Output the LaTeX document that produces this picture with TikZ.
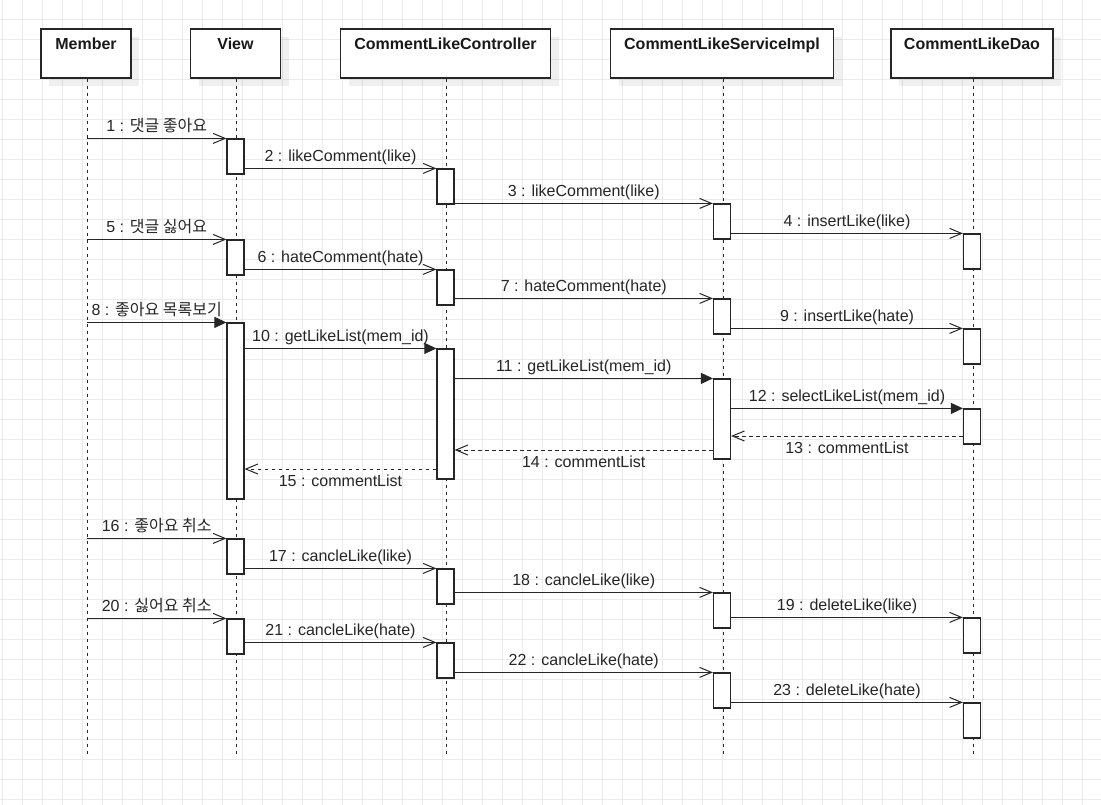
\documentclass[tikz,border=0pt]{standalone}
\usepackage{fontspec}
\setmainfont{Liberation Sans}
\newfontfamily\kr{Noto Sans CJK KR}
\usetikzlibrary{arrows.meta,calc,shadows}
\begin{document}
\begin{tikzpicture}[x=1pt,y=-1pt,
  gridline/.style={draw=black!8, line width=0.8pt},
  hdr/.style={draw=black!85, line width=1.2pt, fill=white, minimum height=49pt, inner sep=0pt,
    drop shadow={shadow xshift=8pt, shadow yshift=-8pt, fill=black, opacity=0.06}},
  ttl/.style={font=\fontsize{16pt}{19pt}\selectfont\bfseries, anchor=base, text=black!90, inner sep=0pt},
  lifeline/.style={draw=black!85, line width=1pt, dash pattern=on 3.5pt off 3.5pt},
  act/.style={draw=black!85, line width=1.2pt, fill=white, minimum width=17pt, inner sep=0pt},
  msg/.style={draw=black!85, line width=1pt, -{Straight Barb[length=12pt,width=10pt,line width=1pt]}},
  fmsg/.style={draw=black!85, line width=1pt, -{Triangle[length=12pt,width=11pt]}},
  ret/.style={msg, dash pattern=on 3.5pt off 3.5pt},
  lbl/.style={font=\fontsize{16pt}{19pt}\selectfont, text=black!85, anchor=base, inner sep=0pt},
]
\useasboundingbox (0,0) rectangle (1101,805);
\fill[white] (0,0) rectangle (1101,805);
% grid
\foreach \x in {2,22,...,1082} \draw[gridline] (\x,0) -- (\x,805);
\foreach \y in {19,39,...,799} \draw[gridline] (0,\y) -- (1101,\y);

% headers
\node[hdr, minimum width=90pt] (member) at (86,53.5) {};
\node[hdr, minimum width=90pt] (view) at (235.5,53.5) {};
\node[hdr, minimum width=210pt] (ctrl) at (445.5,53.5) {};
\node[hdr, minimum width=223pt] (svc) at (722,53.5) {};
\node[hdr, minimum width=162pt] (dao) at (972,53.5) {};
\node[ttl] (memberT) at (86,50) {Member};
\node[ttl] (viewT) at (235.5,50) {View};
\node[ttl] (ctrlT) at (445.5,50) {CommentLikeController};
\node[ttl] (svcT) at (722,50) {CommentLikeServiceImpl};
\node[ttl] (daoT) at (972,50) {CommentLikeDao};

% lifelines
\coordinate (mL) at (87,757);
\coordinate (vL) at (236.5,757);
\coordinate (cL) at (446.5,757);
\coordinate (sL) at (723,757);
\coordinate (dL) at (973,757);
\draw[lifeline] (member.south -| mL) -- (mL);
\draw[lifeline] (view.south -| vL) -- (vL);
\draw[lifeline] (ctrl.south -| cL) -- (cL);
\draw[lifeline] (svc.south -| sL) -- (sL);
\draw[lifeline] (dao.south -| dL) -- (dL);

% activations
\node[act, minimum height=35pt] (v1) at (235.5,156.5) {};
\node[act, minimum height=35pt] (c1) at (445.5,186.5) {};
\node[act, minimum height=35pt] (s1) at (722,221.5) {};
\node[act, minimum height=35pt] (d1) at (972,251.5) {};
\node[act, minimum height=35pt] (v2) at (235.5,257.5) {};
\node[act, minimum height=35pt] (c2) at (445.5,287.5) {};
\node[act, minimum height=35pt] (s2) at (722,316.5) {};
\node[act, minimum height=35pt] (d2) at (972,346.5) {};
\node[act, minimum height=176pt] (v3) at (235.5,411) {};
\node[act, minimum height=130pt] (c3) at (445.5,414) {};
\node[act, minimum height=80pt] (s3) at (722,419) {};
\node[act, minimum height=35pt] (d3) at (972,426.5) {};
\node[act, minimum height=35pt] (v4) at (235.5,556.5) {};
\node[act, minimum height=35pt] (c4) at (445.5,586.5) {};
\node[act, minimum height=35pt] (s4) at (722,610.5) {};
\node[act, minimum height=35pt] (d4) at (972,635.5) {};
\node[act, minimum height=35pt] (v5) at (235.5,636.5) {};
\node[act, minimum height=35pt] (c5) at (445.5,660.5) {};
\node[act, minimum height=35pt] (s5) at (722,690.5) {};
\node[act, minimum height=35pt] (d5) at (972,720.5) {};

% messages
\draw[msg] (mL |- v1.north west) -- node[lbl, yshift=7pt]{1 : {\kr 댓글 좋아요}} (v1.north west);
\draw[msg] (v1.east |- c1.north west) -- node[lbl, yshift=7pt]{2 : likeComment(like)} (c1.north west);
\draw[msg] (c1.east |- s1.north west) -- node[lbl, yshift=7pt]{3 : likeComment(like)} (s1.north west);
\draw[msg] (s1.east |- d1.north west) -- node[lbl, yshift=7pt]{4 : insertLike(like)} (d1.north west);
\draw[msg] (mL |- v2.north west) -- node[lbl, yshift=7pt]{5 : {\kr 댓글 싫어요}} (v2.north west);
\draw[msg] (v2.east |- c2.north west) -- node[lbl, yshift=7pt]{6 : hateComment(hate)} (c2.north west);
\draw[msg] (c2.east |- s2.north west) -- node[lbl, yshift=7pt]{7 : hateComment(hate)} (s2.north west);
\draw[msg] (s2.east |- d2.north west) -- node[lbl, yshift=7pt]{9 : insertLike(hate)} (d2.north west);
\draw[fmsg] (mL |- v3.north west) -- node[lbl, yshift=7pt]{8 : {\kr 좋아요 목록보기}} (v3.north west);
\draw[fmsg] (v3.east |- c3.north west) -- node[lbl, yshift=7pt]{10 : getLikeList(mem\_id)} (c3.north west);
\draw[fmsg] (c3.east |- s3.north west) -- node[lbl, yshift=7pt]{11 : getLikeList(mem\_id)} (s3.north west);
\draw[fmsg] (s3.east |- d3.north west) -- node[lbl, yshift=7pt]{12 : selectLikeList(mem\_id)} (d3.north west);
\coordinate (r13) at (0,436);
\coordinate (r14) at (0,450);
\coordinate (r15) at (0,469);
\draw[ret] (d3.west |- r13) -- node[lbl, yshift=-17.5pt]{13 : commentList} (s3.east |- r13);
\draw[ret] (s3.west |- r14) -- node[lbl, yshift=-17.5pt]{14 : commentList} (c3.east |- r14);
\draw[ret] (c3.west |- r15) -- node[lbl, yshift=-17.5pt]{15 : commentList} (v3.east |- r15);
\draw[msg] (mL |- v4.north west) -- node[lbl, yshift=7pt]{16 : {\kr 좋아요 취소}} (v4.north west);
\draw[msg] (v4.east |- c4.north west) -- node[lbl, yshift=7pt]{17 : cancleLike(like)} (c4.north west);
\draw[msg] (c4.east |- s4.north west) -- node[lbl, yshift=7pt]{18 : cancleLike(like)} (s4.north west);
\draw[msg] (s4.east |- d4.north west) -- node[lbl, yshift=7pt]{19 : deleteLike(like)} (d4.north west);
\draw[msg] (mL |- v5.north west) -- node[lbl, yshift=7pt]{20 : {\kr 싫어요 취소}} (v5.north west);
\draw[msg] (v5.east |- c5.north west) -- node[lbl, yshift=7pt]{21 : cancleLike(hate)} (c5.north west);
\draw[msg] (c5.east |- s5.north west) -- node[lbl, yshift=7pt]{22 : cancleLike(hate)} (s5.north west);
\draw[msg] (s5.east |- d5.north west) -- node[lbl, yshift=7pt]{23 : deleteLike(hate)} (d5.north west);
\end{tikzpicture}
\end{document}
